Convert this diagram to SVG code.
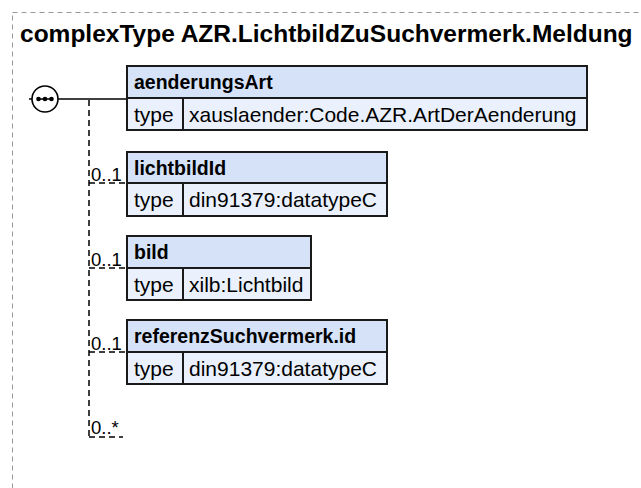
<svg xmlns="http://www.w3.org/2000/svg" width="641" height="488" viewBox="0 0 641 488">
<style>
.t{font-family:"Liberation Sans",Arial,sans-serif;fill:#000}
.title{font-size:24.5px;font-weight:bold}
.nm{font-size:19.5px;font-weight:bold}
.ty{font-size:21px}
.card{font-size:18.5px}
.hd{fill:#d5e2f8;stroke:#1a1a1a;stroke-width:2}
.rw{fill:#eaf1fc;stroke:#1a1a1a;stroke-width:2}
.sep{stroke:#1a1a1a;stroke-width:2}
.dash{fill:none;stroke:#000;stroke-width:1.5;stroke-dasharray:6,4}
.solid{fill:none;stroke:#000;stroke-width:1.5}
</style>
<rect x="12.5" y="12.5" width="700" height="600" fill="none" stroke="#999" stroke-dasharray="5,4" stroke-width="1"/>
<text class="t title" x="20" y="42">complexType AZR.LichtbildZuSuchvermerk.Meldung</text>
<g id="sequence">
<circle cx="45" cy="99" r="13" fill="#fff" stroke="#000" stroke-width="1.6"/>
<line x1="38" y1="99" x2="52" y2="99" stroke="#000" stroke-width="1.5"/>
<circle cx="38.5" cy="99" r="2.3" fill="#000"/>
<circle cx="45" cy="99" r="2.3" fill="#000"/>
<circle cx="51.5" cy="99" r="2.3" fill="#000"/>
</g>
<g id="connectors">
<line class="solid" x1="29" y1="99" x2="32" y2="99"/>
<line class="solid" x1="58" y1="99" x2="127" y2="99"/>
<line class="dash" x1="89" y1="100" x2="89" y2="437"/>
<line class="dash" x1="89" y1="183" x2="127" y2="183"/>
<line class="dash" x1="89" y1="268" x2="127" y2="268"/>
<line class="dash" x1="89" y1="352" x2="127" y2="352"/>
<line class="dash" x1="89" y1="437" x2="123" y2="437"/>
<text class="t card" x="91" y="181">0..1</text>
<text class="t card" x="91" y="266">0..1</text>
<text class="t card" x="91" y="350">0..1</text>
<text class="t card" x="91" y="434">0..*</text>
</g>
<g id="aenderungsArt">
<rect class="hd" x="127" y="66" width="460" height="32"/>
<rect class="rw" x="127" y="98" width="460" height="32"/>
<line class="sep" x1="183" y1="98" x2="183" y2="130"/>
<text class="t nm" x="134" y="89">aenderungsArt</text>
<text class="t ty" x="134" y="122">type</text>
<text class="t ty" x="189" y="122">xauslaender:Code.AZR.ArtDerAenderung</text>
</g>
<g id="lichtbildId">
<rect class="hd" x="127" y="152" width="260" height="31"/>
<rect class="rw" x="127" y="183" width="260" height="33"/>
<line class="sep" x1="183" y1="183" x2="183" y2="216"/>
<text class="t nm" x="134" y="175">lichtbildId</text>
<text class="t ty" x="134" y="207">type</text>
<text class="t ty" x="189" y="207">din91379:datatypeC</text>
</g>
<g id="bild">
<rect class="hd" x="127" y="236" width="184" height="32"/>
<rect class="rw" x="127" y="268" width="184" height="32"/>
<line class="sep" x1="183" y1="268" x2="183" y2="300"/>
<text class="t nm" x="134" y="259">bild</text>
<text class="t ty" x="134" y="292">type</text>
<text class="t ty" x="189" y="292">xilb:Lichtbild</text>
</g>
<g id="referenzSuchvermerk.id">
<rect class="hd" x="127" y="320" width="260" height="32"/>
<rect class="rw" x="127" y="352" width="260" height="32"/>
<line class="sep" x1="183" y1="352" x2="183" y2="384"/>
<text class="t nm" x="134" y="343">referenzSuchvermerk.id</text>
<text class="t ty" x="134" y="376">type</text>
<text class="t ty" x="189" y="376">din91379:datatypeC</text>
</g>
</svg>
